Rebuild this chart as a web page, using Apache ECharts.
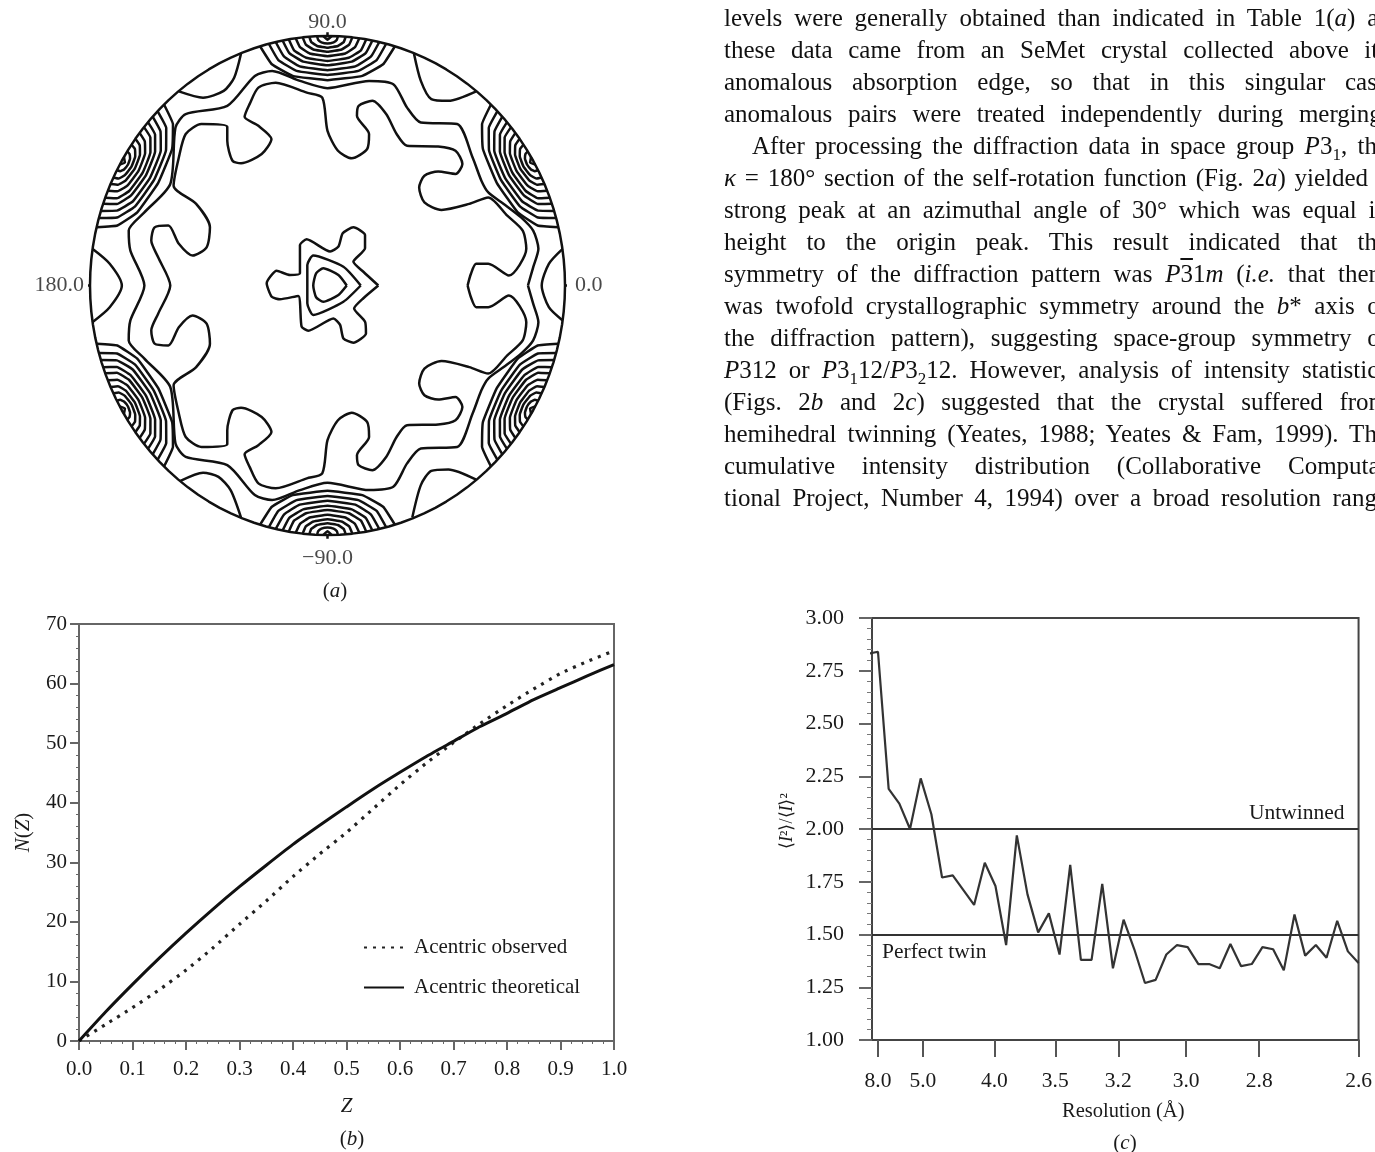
<!DOCTYPE html>
<html>
<head>
<meta charset="utf-8">
<title>Fig. 2</title>
<script src="https://cdn.jsdelivr.net/npm/echarts@6/dist/echarts.min.js"></script>
<style>
  html, body { margin: 0; padding: 0; background: #fff; overflow: hidden; }
  #page { position: relative; width: 1375px; height: 1152px; overflow: hidden; }
  #chart { position: absolute; left: 0; top: 0; width: 1375px; height: 1152px; }
  #body-text { position: absolute; left: 724px; top: 2px; width: 664px; font: 25px/32px "Liberation Serif", serif; color: #111; }
  #body-text div { white-space: nowrap; text-align: justify; text-align-last: justify; height: 32px; }
  #body-text sub { font-size: 17px; line-height: 0; }
  #body-text .bar { text-decoration: overline; }
</style>
</head>
<body>
<div id="page">
  <div id="chart"></div>
  <div id="body-text"></div>
</div>
<script>
// page text next to the figure
const bodyLines = [
  'levels were generally obtained than indicated in Table 1(<i>a</i>) as',
  'these data came from an SeMet crystal collected above its',
  'anomalous absorption edge, so that in this singular case',
  'anomalous pairs were treated independently during merging.',
  '<span style="margin-left:28px"></span>After processing the diffraction data in space group <i>P</i>3<sub>1</sub>, the',
  '<i>κ</i> = 180° section of the self-rotation function (Fig. 2<i>a</i>) yielded a',
  'strong peak at an azimuthal angle of 30° which was equal in',
  'height to the origin peak. This result indicated that the',
  'symmetry of the diffraction pattern was <i>P</i><span class="bar">3</span>1<i>m</i> (<i>i.e.</i> that there',
  'was twofold crystallographic symmetry around the <i>b</i>* axis of',
  'the diffraction pattern), suggesting space-group symmetry of',
  '<i>P</i>312 or <i>P</i>3<sub>1</sub>12/<i>P</i>3<sub>2</sub>12. However, analysis of intensity statistics',
  '(Figs. 2<i>b</i> and 2<i>c</i>) suggested that the crystal suffered from',
  'hemihedral twinning (Yeates, 1988; Yeates &amp; Fam, 1999). The',
  'cumulative intensity distribution (Collaborative Computa-',
  'tional Project, Number 4, 1994) over a broad resolution range'
]

// (a) self-rotation map, contours in % of plot radius [x, y]
const innerContour = [
  [59,0],[60.4,4.7],[62.6,8.7],[67.7,8.7],[76.4,4],[83.7,14.7],[82.2,22],[75.7,28],[67.7,35.3],[59.7,32.7],
  [48,30.3],[40.8,33.3],[38.6,39.3],[40.8,44],[46.6,45.7],[53.9,44.7],[56.8,48.7],[53.9,54],[46.6,55.7],[33.5,56],
  [29.1,60.7],[24.7,68.7],[18.9,74],[13.1,72],[12.4,68],[17.5,60.7],[16.7,54.7],[10.2,51],[4.4,54],[0,62],
  [-2.2,75.3],[-8.7,77.3],[-21.8,81.3],[-29.1,79.3],[-32.8,72.7],[-34.9,67.6],[-29.1,64],[-23.6,58.7],[-27.7,52.7],[-36.4,49],
  [-40,50],[-42.2,58],[-42.2,63.6],[-53.1,64.7],[-59.7,60.7],[-62.6,51.3],[-64.8,40],[-55.3,32.7],[-49.5,23.3],[-50.9,15.3],
  [-56.8,12],[-62.6,16.7],[-67,24],[-72.8,23.3],[-74.2,18],[-71.3,11.3],[-66.2,0],
  [-71.3,-11.3],[-74.2,-18],[-72.8,-23.3],[-67,-24],[-62.6,-16.7],[-56.8,-12],[-50.9,-15.3],[-49.5,-23.3],[-55.3,-32.7],
  [-64.8,-40],[-62.6,-51.3],[-59.7,-60.7],[-53.1,-64.7],[-42.2,-63.6],[-42.2,-58],[-40,-50],[-36.4,-49],[-27.7,-52.7],[-23.6,-58.7],
  [-29.1,-64],[-34.9,-67.6],[-32.8,-72.7],[-29.1,-79.3],[-21.8,-81.3],[-8.7,-77.3],[-2.2,-75.3],[0,-62],[4.4,-54],[10.2,-51],
  [16.7,-54.7],[17.5,-60.7],[12.4,-68],[13.1,-72],[18.9,-74],[24.7,-68.7],[29.1,-60.7],[33.5,-56],[46.6,-55.7],[53.9,-54],
  [56.8,-48.7],[53.9,-44.7],[46.6,-45.7],[40.8,-44],[38.6,-39.3],[40.8,-33.3],[48,-30.3],[59.7,-32.7],[67.7,-35.3],[75.7,-28],
  [82.2,-22],[83.7,-14.7],[76.4,-4],[67.7,-8.7],[62.6,-8.7],[60.4,-4.7],[59,0]
]
const outerContour = [
  [84.4,0],[86.6,7.3],[88.8,14.7],[86.6,22],[81.5,27.3],[74.2,32.7],[67.7,37.3],[64.8,42],[61.1,51.3],[54.6,64.7],
  [39.3,65.3],[33.5,71.3],[27.7,80.7],[17.5,82],[0,79.1],[-11.6,82],[-23.3,86],[-30.6,84],[-42.2,72],[-59.7,68.7],
  [-64,63.3],[-66.2,40.7],[-77.1,29.3],[-83.7,22],[-83,14],[-77.1,0],
  [-83,-14],[-83.7,-22],[-77.1,-29.3],[-66.2,-40.7],[-64,-63.3],[-59.7,-68.7],[-42.2,-72],[-30.6,-84],[-23.3,-86],[-11.6,-82],
  [0,-79.1],[17.5,-82],[27.7,-80.7],[33.5,-71.3],[39.3,-65.3],[54.6,-64.7],[61.1,-51.3],[64.8,-42],[67.7,-37.3],[74.2,-32.7],
  [81.5,-27.3],[86.6,-22],[88.8,-14.7],[86.6,-7.3],[84.4,0]
]
const rimContours = [
  [[36.4,93],[39.3,82],[43.7,74.7],[50.9,74],[62.6,77.8]],
  [[-36.4,93],[-39.3,83.3],[-43.7,78],[-52.4,75.3],[-62.6,77.8]],
  [[-36.4,-93],[-40.8,-82],[-45.9,-76.7],[-52.4,-75],[-61.9,-78.3]],
  [[35.7,-93],[39.3,-80],[43.7,-74.3],[50.9,-73.7],[62.6,-77.8]],
  [[-99,14.7],[-91.7,8.7],[-86.6,0],[-91.7,-8.7],[-99,-14.7]],
  [[99,14.7],[93.2,8.7],[90.2,0],[93.2,-8.7],[99,-14]]
]
const originContours = [
  [[21.4,0],[15.1,5.5],[10.9,9.5],[15.8,14.9],[15.8,20.2],[10.9,23.3],[6.4,20.9],[4.6,15.6],[1.1,13.6],[-8.8,18.5],[-11.6,16.2],[-11.6,4.9],
   [-15.8,4.2],[-21.4,5.9],[-25.6,0.9],[-23.5,-4.5],[-20,-5.5],[-12.3,-4.2],[-10.9,-16.5],[-8.1,-18.1],[2.5,-13.2],[5.3,-15.8],[6.7,-21.2],
   [10.9,-22.9],[16.2,-19.2],[15.8,-14.5],[11.2,-9.2],[15.1,-5.1],[21.4,0]],
  [[14,0],[6.7,7.5],[-6,12],[-8.5,8.2],[-8.5,-7.1],[-6,-11.8],[6.7,-6.5],[14,0]],
  [[8.1,0],[4.6,4.2],[-1.8,6.9],[-4.8,4.9],[-6,0],[-4.8,-4.7],[-1.8,-6.5],[4.6,-3.8],[8.1,0]]
]
// peaks on the rim: [degrees away from peak, radius %] of each contour, peak azimuths in degrees
const peakAzimuths = [90, 30, -30, -90, -150, 150]
const peakContours = [
  [[16.5,100],[14.8,91.7],[9.9,85.3],[0,82.3],[-9.9,85.3],[-14.8,91.7],[-16.5,100]],
  [[14.3,100],[12.9,92.7],[8.6,87],[0,84.4],[-8.6,87],[-12.9,92.7],[-14.3,100]],
  [[12.6,100],[11.3,93.6],[7.6,88.6],[0,86.3],[-7.6,88.6],[-11.3,93.6],[-12.6,100]],
  [[10.9,100],[9.8,94.5],[6.5,90.3],[0,88.3],[-6.5,90.3],[-9.8,94.5],[-10.9,100]],
  [[9.4,100],[8.5,95.3],[5.6,91.7],[0,90],[-5.6,91.7],[-8.5,95.3],[-9.4,100]],
  [[7.7,100],[6.9,96.2],[4.6,93.3],[0,91.9],[-4.6,93.3],[-6.9,96.2],[-7.7,100]],
  [[6,100],[5.4,97],[3.6,94.8],[0,93.7],[-3.6,94.8],[-5.4,97],[-6,100]],
  [[4.4,100],[4,97.8],[2.6,96.1],[0,95.3],[-2.6,96.1],[-4,97.8],[-4.4,100]],
  [[2.5,100],[2.3,98.6],[1.5,97.5],[0,97],[-1.5,97.5],[-2.3,98.6],[-2.5,100]],
  [[1,100],[0,98.5],[-1,100]]
]
const azimuthLabels = [
  { text: '90.0', value: [0, 100], position: 'top', distance: 3 },
  { text: '0.0', value: [100, 0], position: 'right', distance: 10 },
  { text: '\u221290.0', value: [0, -100], position: 'bottom', distance: 12 },
  { text: '180.0', value: [-100, 0], position: 'left', distance: 6 }
]

// (b) cumulative intensity distribution
const zValues = [0,0.05,0.1,0.15,0.2,0.25,0.3,0.35,0.4,0.45,0.5,0.55,0.6,0.65,0.7,0.75,0.8,0.85,0.9,0.95,1]
const observedN = [0,2.8,5.6,8.6,11.9,15.6,19.6,23.5,27.6,31.4,35,39,43,46.7,50.1,53.3,56.3,59.1,61.7,63.7,65.5]
const theoreticalN = [0,4.9,9.5,13.9,18.1,22.1,25.9,29.5,33,36.2,39.3,42.3,45.1,47.8,50.3,52.8,55,57.3,59.3,61.3,63.2]

// (c) intensity ratio per resolution bin
const ratioValues = [2.83,2.84,2.19,2.12,2.0,2.24,2.07,1.77,1.78,1.71,1.64,1.84,1.73,1.45,1.97,1.69,1.51,1.6,1.405,1.83,
  1.38,1.38,1.74,1.34,1.57,1.43,1.27,1.285,1.405,1.45,1.44,1.36,1.36,1.34,1.455,1.35,1.36,1.44,1.43,1.33,
  1.595,1.4,1.45,1.39,1.565,1.42,1.365]
const resolutionBins = [1, 5.2, 11.9, 17.6, 23.5, 29.85, 36.7, 46]
const resolutionLabels = ['8.0', '5.0', '4.0', '3.5', '3.2', '3.0', '2.8', '2.6']

const serif = '"Liberation Serif", serif'
const inkColor = '#1a1a1a'
const frameColor = '#666'

function toXY(azimuth, offset, r) {
  const a = (azimuth + offset) * Math.PI / 180
  return [r * Math.cos(a), r * Math.sin(a)]
}

function contourSeries(points, smooth) {
  return {
    type: 'line', xAxisIndex: 0, yAxisIndex: 0, data: points, showSymbol: false, silent: true,
    smooth: smooth, clip: false, animation: false,
    lineStyle: { color: '#111', width: 2.5 }
  }
}

// map outline
const rimPoints = []
for (let a = 0; a <= 360; a += 3) rimPoints.push(toXY(a, 0, 100))

const mapSeries = [contourSeries(rimPoints, false)]
const rimTicks = [[[0, 100], [0, 101.5]], [[0, -100], [0, -101.5]], [[100, 0], [101.5, 0]], [[-100, 0], [-101.5, 0]]]
rimTicks.forEach(t => mapSeries.push(contourSeries(t, false)))
mapSeries.push(contourSeries(innerContour, 0.25))
mapSeries.push(contourSeries(outerContour, 0.25))
rimContours.forEach(c => mapSeries.push(contourSeries(c, 0.25)))
originContours.forEach(c => mapSeries.push(contourSeries(c, 0.2)))
peakAzimuths.forEach(az => {
  peakContours.forEach(c => {
    mapSeries.push(contourSeries(c.map(p => toXY(az, p[0], p[1])), 0.1))
  })
})
mapSeries.push({
  type: 'scatter', xAxisIndex: 0, yAxisIndex: 0, symbolSize: 0, silent: true, animation: false, clip: false,
  data: azimuthLabels.map(l => ({
    value: l.value,
    label: { show: true, formatter: l.text, position: l.position, distance: l.distance,
      fontFamily: serif, fontSize: 22, color: inkColor }
  }))
})

const chart = echarts.init(document.getElementById('chart'))
const italic = { i: { fontStyle: 'italic', fontFamily: serif, fontSize: 21, color: inkColor } }
const captionStyle = { fontFamily: serif, fontWeight: 'normal', fontSize: 21, color: inkColor, rich: italic }

chart.setOption({
  backgroundColor: '#fff',
  animation: false,
  title: [
    { text: '({i|a})', left: 330, top: 576, textAlign: 'center', textStyle: captionStyle },
    { text: '({i|b})', left: 347, top: 1124, textAlign: 'center', textStyle: captionStyle },
    { text: '({i|c})', left: 1120, top: 1128, textAlign: 'center', textStyle: captionStyle }
  ],
  grid: [
    { left: 90, top: 36, width: 475, height: 499 },
    { left: 79, top: 624, width: 535, height: 417, show: true, borderColor: frameColor, borderWidth: 2 },
    { left: 872, top: 618, width: 488, height: 422, show: true, borderColor: '#444', borderWidth: 2 }
  ],
  legend: {
    data: ['Acentric observed', 'Acentric theoretical'],
    orient: 'vertical', left: 358, top: 932, itemWidth: 40, itemHeight: 14, itemGap: 19,
    selectedMode: false,
    // only the line sample, no symbol on it
    itemStyle: { opacity: 0 },
    textStyle: { fontFamily: serif, fontSize: 21, color: inkColor, padding: [0, 0, 0, 5] }
  },
  xAxis: [
    { gridIndex: 0, type: 'value', min: -100, max: 100, show: false },
    {
      gridIndex: 1, type: 'value', min: 0, max: 1, interval: 0.1,
      name: '{i|Z}', nameLocation: 'middle', nameGap: 55,
      nameTextStyle: { rich: italic },
      splitLine: { show: false },
      axisLine: { onZero: false, lineStyle: { color: frameColor, width: 2 } },
      axisTick: { length: 9, lineStyle: { color: frameColor, width: 2 } },
      minorTick: { show: true, splitNumber: 5, length: 3, lineStyle: { color: frameColor } },
      axisLabel: { margin: 18, fontFamily: serif, fontSize: 21, color: inkColor, formatter: v => v.toFixed(1), hideOverlap: false }
    },
    {
      gridIndex: 2, type: 'value', min: 0.44, max: 46,
      name: 'Resolution (Å)', nameLocation: 'middle', nameGap: 61,
      nameTextStyle: { fontFamily: serif, fontSize: 20.5, color: inkColor, padding: [0, 0, 0, 16] },
      splitLine: { show: false },
      axisLine: { onZero: false, lineStyle: { color: '#444', width: 2 } },
      axisTick: { length: 17, customValues: resolutionBins, lineStyle: { color: '#555', width: 2 } },
      axisLabel: {
        margin: 30, fontFamily: serif, fontSize: 21.5, color: inkColor, customValues: resolutionBins,
        formatter: v => resolutionLabels[resolutionBins.indexOf(v)]
      }
    }
  ],
  yAxis: [
    { gridIndex: 0, type: 'value', min: -100, max: 100, show: false },
    {
      gridIndex: 1, type: 'value', min: 0, max: 70, interval: 10,
      name: '{i|N}({i|Z})', nameLocation: 'middle', nameGap: 45, nameRotate: 90,
      nameTextStyle: { fontFamily: serif, fontSize: 21, color: inkColor, rich: italic },
      splitLine: { show: false },
      axisLine: { onZero: false, lineStyle: { color: frameColor, width: 2 } },
      axisTick: { length: 9, lineStyle: { color: frameColor, width: 2 } },
      minorTick: { show: true, splitNumber: 5, length: 3, lineStyle: { color: frameColor } },
      axisLabel: { margin: 12, fontFamily: serif, fontSize: 21, color: inkColor }
    },
    {
      gridIndex: 2, type: 'value', min: 1, max: 3, interval: 0.25,
      name: '\u27e8{i|I}²\u27e9/\u27e8{i|I}\u27e9²', nameLocation: 'middle', nameGap: 76, nameRotate: 90,
      nameTextStyle: { fontFamily: serif, fontSize: 18, color: inkColor, padding: [0, 0, 0, 16], rich: { i: { fontStyle: 'italic', fontFamily: serif, fontSize: 18, color: inkColor } } },
      splitLine: { show: false },
      axisLine: { onZero: false, lineStyle: { color: '#444', width: 2 } },
      axisTick: { length: 13, lineStyle: { color: '#666', width: 2 } },
      minorTick: { show: true, splitNumber: 5, length: 5, lineStyle: { color: '#777', width: 1 } },
      axisLabel: { margin: 28, fontFamily: serif, fontSize: 22, color: inkColor, formatter: v => v.toFixed(2) }
    }
  ],
  series: mapSeries.concat([
    {
      name: 'Acentric observed', type: 'line', xAxisIndex: 1, yAxisIndex: 1, symbol: 'none', silent: true, smooth: 0.2,
      data: zValues.map((z, i) => [z, observedN[i]]),
      itemStyle: { color: '#222' },
      lineStyle: { color: '#222', width: 3.2, type: [3, 6] }
    },
    {
      name: 'Acentric theoretical', type: 'line', xAxisIndex: 1, yAxisIndex: 1, symbol: 'none', silent: true, smooth: 0.2,
      data: zValues.map((z, i) => [z, theoreticalN[i]]),
      itemStyle: { color: '#111' },
      lineStyle: { color: '#111', width: 3 }
    },
    {
      type: 'line', xAxisIndex: 2, yAxisIndex: 2, showSymbol: false, silent: true,
      data: ratioValues.map((v, i) => [i, v]),
      lineStyle: { color: '#333', width: 2.2 },
      markLine: {
        silent: true, symbol: 'none', animation: false,
        lineStyle: { color: '#333', width: 2.2, type: 'solid' },
        data: [
          { yAxis: 2, label: { formatter: 'Untwinned', position: 'insideEndTop', distance: 5, padding: [0, 9, 0, 0], fontFamily: serif, fontSize: 21.5, color: inkColor } },
          { yAxis: 1.5, label: { formatter: 'Perfect twin', position: 'insideStartBottom', distance: 7, padding: [0, 0, 0, 3], fontFamily: serif, fontSize: 21.5, color: inkColor } }
        ]
      }
    }
  ])
})

document.getElementById('body-text').innerHTML = bodyLines.map(l => '<div>' + l + '</div>').join('')
</script>
</body>
</html>
